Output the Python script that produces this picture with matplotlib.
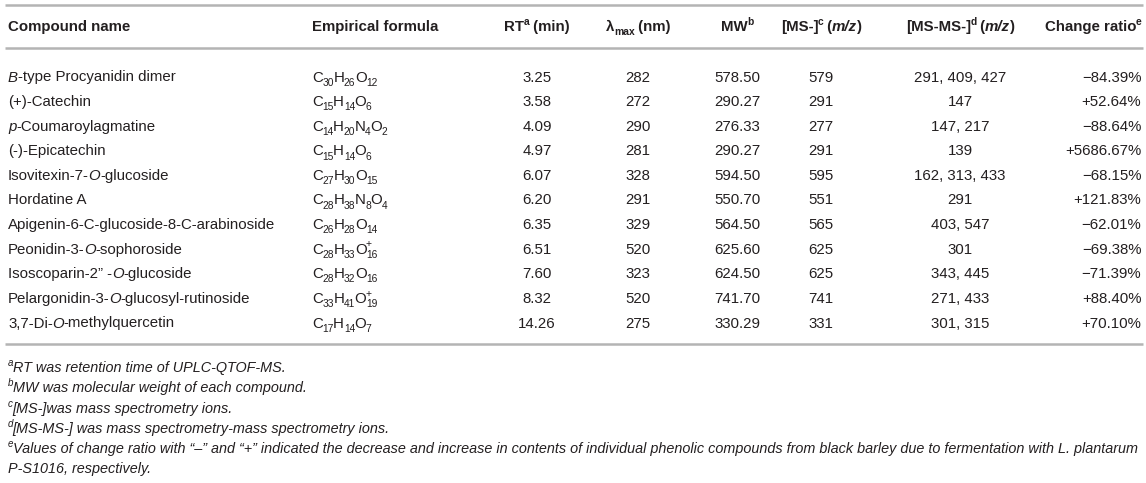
import re
import matplotlib
matplotlib.use("Agg")
import matplotlib.pyplot as plt

plt.rcParams["font.family"] = ["Liberation Sans", "DejaVu Sans"]

# Table content (markup: _{sub}, ^{sup}, *italic*)
headers = [
    "Compound name",
    "Empirical formula",
    "RT^{a} (min)",
    "\u03bb_{max} (nm)",
    "MW^{b}",
    "[MS-]^{c} (*m/z*)",
    "[MS-MS-]^{d} (*m/z*)",
    "Change ratio^{e}",
]

compounds = [
    "*B*-type Procyanidin dimer",
    "(+)-Catechin",
    "*p*-Coumaroylagmatine",
    "(-)-Epicatechin",
    "Isovitexin-7-*O*-glucoside",
    "Hordatine A",
    "Apigenin-6-C-glucoside-8-C-arabinoside",
    "Peonidin-3-*O*-sophoroside",
    "Isoscoparin-2\u201d -*O*-glucoside",
    "Pelargonidin-3-*O*-glucosyl-rutinoside",
    "3,7-Di-*O*-methylquercetin",
]

formulas = [
    "C_{30}H_{26}O_{12}",
    "C_{15}H_{14}O_{6}",
    "C_{14}H_{20}N_{4}O_{2}",
    "C_{15}H_{14}O_{6}",
    "C_{27}H_{30}O_{15}",
    "C_{28}H_{38}N_{8}O_{4}",
    "C_{26}H_{28}O_{14}",
    "C_{28}H_{33}O_{16}^{+}",
    "C_{28}H_{32}O_{16}",
    "C_{33}H_{41}O_{19}^{+}",
    "C_{17}H_{14}O_{7}",
]

rt_min = ["3.25", "3.58", "4.09", "4.97", "6.07", "6.20", "6.35", "6.51", "7.60", "8.32", "14.26"]
lambda_max = ["282", "272", "290", "281", "328", "291", "329", "520", "323", "520", "275"]
mw = ["578.50", "290.27", "276.33", "290.27", "594.50", "550.70", "564.50", "625.60", "624.50", "741.70", "330.29"]
ms_ion = ["579", "291", "277", "291", "595", "551", "565", "625", "625", "741", "331"]
msms_ion = ["291, 409, 427", "147", "147, 217", "139", "162, 313, 433", "291",
            "403, 547", "301", "343, 445", "271, 433", "301, 315"]
change_ratio = ["\u221284.39%", "+52.64%", "\u221288.64%", "+5686.67%", "\u221268.15%", "+121.83%",
                "\u221262.01%", "\u221269.38%", "\u221271.39%", "+88.40%", "+70.10%"]

footnotes = [
    "^{a}RT was retention time of UPLC-QTOF-MS.",
    "^{b}MW was molecular weight of each compound.",
    "^{c}[MS-]was mass spectrometry ions.",
    "^{d}[MS-MS-] was mass spectrometry-mass spectrometry ions.",
    "^{e}Values of change ratio with \u201c\u2013\u201d and \u201c+\u201d indicated the decrease and increase in contents "
    "of individual phenolic compounds from black barley due to fermentation with L. plantarum",
    "P-S1016, respectively.",
]

W, H = 1146, 483
fig = plt.figure(figsize=(W / 100, H / 100), dpi=100)
ax = fig.add_axes([0, 0, 1, 1])
ax.set_xlim(0, W)
ax.set_ylim(H, 0)
ax.axis("off")
renderer = fig.canvas.get_renderer()

ink = "#231f20"
rule = "#b4b4b4"
fs = 10.8


def draw_runs(x, y, s, ha="left", size=fs, weight="normal", italic=False):
    """Draw a string with simple sub/superscript/italic markup, baseline at y."""
    px = size * 100 / 72
    parts = []
    for tok in re.findall(r"_\{[^}]*\}|\^\{[^}]*\}|\*[^*]*\*|[^_^*]+", s):
        if tok.startswith("_{"):
            parts.append((tok[2:-1], "sub", italic))
        elif tok.startswith("^{"):
            parts.append((tok[2:-1], "sup", italic))
        elif tok.startswith("*"):
            parts.append((tok[1:-1], "base", True))
        else:
            parts.append((tok, "base", italic))
    artists = []
    cursor, prev_pos, prev_w = 0.0, None, 0.0
    for text, pos, it in parts:
        small = pos != "base"
        dy = {"base": 0, "sub": 0.28 * px, "sup": -0.42 * px}[pos]
        t = ax.text(0, y + dy, text, fontsize=size * (0.68 if small else 1.0),
                    fontweight=weight, fontstyle="italic" if it else "normal",
                    ha="left", va="baseline", color=ink)
        w = t.get_window_extent(renderer).width
        if pos == "sup" and prev_pos == "sub":
            start = cursor - prev_w
            cursor = start + max(prev_w, w)
        else:
            start = cursor
            cursor += w - (0.6 if small else 0.3)
        artists.append((t, start))
        prev_pos, prev_w = pos, w
    offset = {"left": 0, "center": -cursor / 2, "right": -cursor}[ha]
    for t, start in artists:
        t.set_x(x + offset + start)


# column anchors (x, alignment)
cols = [(8, "left"), (312, "left"), (537, "center"), (638, "center"),
        (737, "center"), (821, "center"), (960, "center"), (1141, "right")]

# baselines (pixels from top)
header_base = 31
row0, row_step = 81.5, 24.6
foot0, foot_step = 372, 20.3

for y in (5, 48, 344):
    ax.plot([5, 1143], [y, y], color=rule, lw=1.8, solid_capstyle="butt")

for (x, ha), h in zip(cols, headers):
    draw_runs(x, header_base, h, ha=ha, weight="bold")

columns = [compounds, formulas, rt_min, lambda_max, mw, ms_ion, msms_ion, change_ratio]
for i in range(len(compounds)):
    y = row0 + i * row_step
    for (x, ha), values in zip(cols, columns):
        draw_runs(x, y, values[i], ha=ha)

for k, note in enumerate(footnotes):
    draw_runs(8, foot0 + k * foot_step, note, size=10.35, italic=True)

fig.savefig("out.png", dpi=100)
